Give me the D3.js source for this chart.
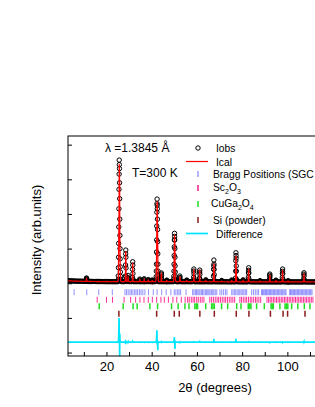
<!DOCTYPE html>
<html><head><meta charset="utf-8">
<script src="https://cdn.jsdelivr.net/npm/d3@7"></script>
<style>
html,body{margin:0;padding:0;background:#fff;}
svg{display:block;font-family:"Liberation Sans",Arial,sans-serif;}
</style></head>
<body>
<svg id="chart" width="315" height="407"></svg>
<script>
// ---------- DATA ----------
const wavelengthLabel = "λ =1.3845 Å";
const temperatureLabel = "T=300 K";
const xTicks = [10,20,30,40,50,60,70,80,90,100,110];
const xTickLabels = [20,40,60,80,100];
const yTicks = [-4000,-2000,0,2000,4000,6000,8000];
const diffOffset = -3400;

// background observed intensity, 2θ = 3.0 .. 115.0, step 0.5
const bgStart = 3.0, bgStep = 0.5;
const bgObs = [
150,142,138,135,130,128,125,122,120,118,116,118,114,112,110,113,109,108,106,105,
104,102,105,101,100,99,102,98,97,100,96,95,98,94,96,93,95,92,94,91,
93,92,90,94,91,95,92,96,94,97,95,99,96,98,95,97,94,96,93,95,
92,94,96,93,95,92,94,91,93,95,92,94,96,93,91,94,92,95,93,90,
92,94,91,93,90,92,94,91,89,92,90,93,91,89,92,90,88,91,89,92,
90,88,91,89,87,90,88,91,89,87,90,88,86,89,87,90,88,86,89,87,
85,88,86,89,87,85,88,86,84,87,85,88,86,84,87,85,83,86,84,87,
85,83,86,84,82,85,83,86,84,82,85,83,81,84,82,85,83,81,84,82,
80,83,81,84,82,80,83,81,79,82,80,83,81,79,82,80,78,81,79,82,
80,78,81,79,77,80,78,81,79,77,80,78,76,79,77,80,78,76,79,77,
75,78,76,79,77,75,78,76,74,77,75,78,76,74,77,75,73,76,74,77,
75,73,76,74,72];

// Bragg peaks: observed and calculated intensities, step 0.05° from start
const peakStep = 0.05;
const peaks = [
 {start:11.05, obs:[130,200,280,300,240,160,115], calc:[125,195,275,296,245,165,115]},
 {start:25.15, obs:[120,200,420,900,1500,2300,3250,4300,5420,6300,7110,6850,6620,5800,4880,3700,2760,2000,1410,950,650,400,240,140],
               calc:[118,190,400,850,1350,2000,2700,3500,4020,5000,6900,6700,6400,6000,5800,3200,2500,1850,1300,880,600,370,230,135]},
 {start:28.35, obs:[140,420,1050,1700,1915,1500,880,380,160], calc:[135,400,980,1820,1850,1560,850,360,150]},
 {start:29.45, obs:[130,300,450,320,150], calc:[130,290,430,330,150]},
 {start:31.45, obs:[120,330,800,1240,1050,560,220,110], calc:[120,310,760,1180,1100,540,210,110]},
 {start:34.65, obs:[110,190,240,170,105], calc:[110,185,235,175,105]},
 {start:36.60, obs:[110,200,260,180,100], calc:[110,195,255,185,100]},
 {start:38.45, obs:[105,170,210,150,100], calc:[105,165,205,155,100]},
 {start:40.15, obs:[100,160,190,140,95], calc:[100,155,185,145,95]},
 {start:41.90, obs:[130,240,380,700,1100,1800,2500,3300,4100,4600,4860,4500,4300,3700,3100,2400,1700,1100,700,420,260,130],
               calc:[128,230,360,660,1000,1650,2250,2900,3410,4300,4750,4600,4450,3800,3050,2600,2160,1200,720,410,250,130]},
 {start:44.15, obs:[130,300,520,590,430,220,120], calc:[130,290,500,600,440,215,120]},
 {start:46.55, obs:[100,150,180,130,95], calc:[100,148,176,134,95]},
 {start:49.70, obs:[120,250,400,700,1100,1600,2100,2500,2880,2700,2500,2000,1500,1000,650,380,220,120],
               calc:[120,240,380,660,1000,1450,1810,2300,2800,2700,2550,2250,1900,1050,620,360,210,120]},
 {start:52.35, obs:[120,260,415,330,160], calc:[120,250,400,340,160]},
 {start:55.40, obs:[105,150,185,140,100], calc:[105,148,180,142,100]},
 {start:58.50, obs:[120,350,700,820,560,240,110], calc:[120,330,680,800,580,240,110]},
 {start:61.10, obs:[110,300,640,760,520,220,100], calc:[110,290,620,780,520,220,100]},
 {start:63.85, obs:[100,150,200,140,95], calc:[100,148,195,143,95]},
 {start:67.30, obs:[120,400,800,1000,1340,1100,800,500,160,100], calc:[120,380,760,950,1140,1120,790,490,160,100]},
 {start:70.85, obs:[95,130,160,120,90], calc:[95,128,155,122,90]},
 {start:75.30, obs:[95,150,190,140,90], calc:[95,148,185,143,90]},
 {start:77.05, obs:[110,300,700,1300,1760,1600,1450,1000,700,220,110], calc:[110,290,680,1200,1560,1580,1500,980,690,215,110]},
 {start:80.35, obs:[90,150,200,140,88], calc:[90,147,195,144,88]},
 {start:82.70, obs:[110,350,600,750,895,600,250,110], calc:[110,340,590,720,830,620,250,110]},
 {start:87.85, obs:[88,120,150,115,85], calc:[88,118,146,117,85]},
 {start:92.10, obs:[110,250,460,530,380,170,100], calc:[110,245,450,500,390,170,100]},
 {start:94.85, obs:[85,140,180,130,82], calc:[85,138,175,133,82]},
 {start:97.70, obs:[110,330,550,690,820,560,230,100], calc:[110,320,540,660,770,570,230,100]},
 {start:100.25, obs:[85,120,150,115,80], calc:[85,118,146,117,80]},
 {start:107.20, obs:[110,270,520,605,430,190,100], calc:[110,265,500,570,440,190,100]}
];

// Bragg reflection positions (2θ)
const braggSGC = [5.7,11.3,16.6,22.6,28.2,28.9,29.6,30.4,31.0,31.7,32.5,33.1,33.8,34.6,35.3,36.1,37.0,38.6,40.7,42.4,44.4,46.4,48.5,
 50.0,50.7,51.5,52.1,52.8,55.2,58.1,58.7,59.3,59.8,60.4,60.9,61.4,62.1,62.5,63.1,63.7,64.2,64.8,65.3,65.8,66.4,67.0,67.5,68.1,68.8,
 70.2,71.0,71.8,72.6,73.3,75.4,76.0,76.7,77.2,77.8,78.5,79.0,79.6,80.3,80.8,81.4,82.0,84.2,85.0,85.8,86.6,87.3,
 88.6,89.0,89.5,90.0,90.4,90.8,91.3,91.8,92.2,92.6,93.1,93.6,94.0,94.4,94.9,95.4,95.8,96.2,96.7,97.2,97.6,98.0,98.5,99.0,99.4,
 101.0,101.4,101.9,102.4,102.8,103.2,103.7,104.2,104.6,105.0,105.5,106.0,106.4,106.8,107.3,107.8,108.2,108.6,109.1,109.6,110.0,110.4,110.9];
const braggSc2O3 = [15.9,20.0,22.7,27.8,30.7,32.9,34.8,36.6,38.5,40.3,42.2,44.1,45.6,47.4,49.4,51.1,53.1,54.8,55.9,56.6,57.5,58.3,59.0,59.9,
 60.6,61.5,62.3,63.1,65.7,66.5,67.3,68.1,68.9,69.6,70.4,71.2,72.0,72.7,73.5,74.3,75.1,75.9,76.7,79.0,79.7,80.5,81.3,82.0,82.8,83.6,
 84.3,85.1,85.9,86.6,87.4,88.2,91.0,91.7,92.4,93.1,93.8,94.5,95.2,95.9,96.6,97.3,98.0,98.7,99.4,100.1,100.8,101.5,102.2,102.9,
 103.6,104.3,105.0,105.7,106.4,107.1,107.8,108.5,109.2,109.9,110.6,111.3];
const braggCuGa2O4 = [16.8,27.4,31.8,33.6,39.2,42.6,48.8,51.7,54.7,56.5,59.1,59.7,60.3,63.9,66.5,67.1,67.7,70.9,73.6,77.6,79.5,
 82.7,83.3,83.9,86.4,89.8,92.8,93.3,93.8,96.7,99.0,99.6,100.2,101.9,104.6,107.5,110.0];
const braggSi = [25.5,42.2,50.0,52.2,61.3,67.7,77.4,83.0,92.5,98.1,100.1,107.8];

// ---------- LAYOUT ----------
const mLeft = 68, mRight = 362, mTop = 136, mBottom = 356;
const svg = d3.select("#chart");
const x = d3.scaleLinear().domain([3, 133]).range([mLeft, mRight]);
const y = d3.scaleLinear().domain([-4200, 8500]).range([mBottom, mTop]);

svg.append("defs").append("clipPath").attr("id","clip")
  .append("rect").attr("x",mLeft).attr("y",mTop).attr("width",mRight-mLeft).attr("height",mBottom-mTop);

// assemble points
const inPeak = t => peaks.some(p => t >= p.start - 0.02 && t <= p.start + (p.obs.length-1)*peakStep + 0.02);
let pts = [];
bgObs.forEach((v,i) => { const t = bgStart + i*bgStep; if (!inPeak(t)) pts.push({t, obs:v, calc:v}); });
peaks.forEach(p => p.obs.forEach((v,i) => pts.push({t: +(p.start + i*peakStep).toFixed(3), obs:v, calc:p.calc[i]})));
pts.sort((a,b) => a.t - b.t);

const g = svg.append("g").attr("clip-path","url(#clip)");

// observed circles
g.append("g").selectAll("circle").data(pts).join("circle")
  .attr("cx", d => x(d.t)).attr("cy", d => y(d.obs)).attr("r", 2.2)
  .attr("fill","none").attr("stroke","#000").attr("stroke-width",1);

// calculated line
g.append("path").datum(pts)
  .attr("d", d3.line().x(d => x(d.t)).y(d => y(d.calc)))
  .attr("fill","none").attr("stroke","#ff0000").attr("stroke-width",1.2);

// bragg ticks
const rows = [
  {data: braggSGC, color:"#6b6bff", y0:6, y1:12, w:1, op:0.75},
  {data: braggSc2O3, color:"#ff1a8c", y0:13.5, y1:19.5, w:1, op:0.9},
  {data: braggCuGa2O4, color:"#22dd22", y0:20, y1:26, w:1.5, op:1},
  {data: braggSi, color:"#8b1a1a", y0:27.5, y1:33.5, w:1.5, op:1}
];
rows.forEach(r => {
  g.append("g").selectAll("line").data(r.data).join("line")
    .attr("x1", d => x(d)).attr("x2", d => x(d))
    .attr("y1", y(0) + r.y0).attr("y2", y(0) + r.y1)
    .attr("stroke", r.color).attr("stroke-width", r.w).attr("stroke-opacity", r.op);
});

// difference curve
g.append("path").datum(pts)
  .attr("d", d3.line().x(d => x(d.t)).y(d => y(d.obs - d.calc + diffOffset)))
  .attr("fill","none").attr("stroke","#00e5ff").attr("stroke-width",1.7);

// axes
const xAxis = d3.axisBottom(x).tickValues(xTicks).tickSize(-4).tickPadding(6)
  .tickFormat(d => xTickLabels.includes(d) ? d : "");
const ax = svg.append("g").attr("transform",`translate(0,${mBottom})`).call(xAxis);
ax.select(".domain").remove();
ax.selectAll("text").attr("font-size",13).attr("font-family","Liberation Sans, Arial, sans-serif").attr("fill","#000");
ax.selectAll("line").attr("stroke","#000");

const yAxis = d3.axisLeft(y).tickValues(yTicks).tickSize(-4).tickFormat("");
const ay = svg.append("g").attr("transform",`translate(${mLeft},0)`).call(yAxis);
ay.select(".domain").remove();
ay.selectAll("line").attr("stroke","#000");

// frame
svg.append("rect").attr("x",mLeft).attr("y",mTop).attr("width",mRight-mLeft).attr("height",mBottom-mTop)
  .attr("fill","none").attr("stroke","#000").attr("stroke-width",1);

// axis titles
svg.append("text").attr("x", (mLeft+mRight)/2).attr("y", 392).attr("text-anchor","middle")
  .attr("font-size",13).text("2θ (degrees)");
svg.append("text").attr("transform",`translate(41,${240}) rotate(-90)`).attr("text-anchor","middle")
  .attr("font-size",13).text("Intensity (arb.units)");

// annotations
svg.append("text").attr("x",105).attr("y",152).attr("font-size",12).text(wavelengthLabel);
svg.append("text").attr("x",132).attr("y",177).attr("font-size",12).text(temperatureLabel);

// legend
const L = svg.append("g").attr("font-size",10.3);
L.append("circle").attr("cx",198).attr("cy",148).attr("r",2.2).attr("fill","none").attr("stroke","#000").attr("stroke-width",1);
L.append("text").attr("x",216).attr("y",152).text("Iobs");
L.append("line").attr("x1",186).attr("x2",208).attr("y1",161.5).attr("y2",161.5).attr("stroke","#ff0000").attr("stroke-width",1.2);
L.append("text").attr("x",216).attr("y",166).text("Ical");
L.append("line").attr("x1",198).attr("x2",198).attr("y1",171).attr("y2",177).attr("stroke","#6b6bff").attr("stroke-width",1);
L.append("text").attr("x",213).attr("y",178).text("Bragg Positions (SGC");
L.append("line").attr("x1",198).attr("x2",198).attr("y1",185).attr("y2",191).attr("stroke","#ff1a8c").attr("stroke-width",1.5);
const t1 = L.append("text").attr("x",213).attr("y",191);
t1.append("tspan").text("Sc");
t1.append("tspan").attr("font-size",7).attr("dy",3).text("2");
t1.append("tspan").attr("dy",-3).text("O");
t1.append("tspan").attr("font-size",7).attr("dy",3).text("3");
L.append("line").attr("x1",198).attr("x2",198).attr("y1",201).attr("y2",207).attr("stroke","#22dd22").attr("stroke-width",1.5);
const t2 = L.append("text").attr("x",211).attr("y",207);
t2.append("tspan").text("CuGa");
t2.append("tspan").attr("font-size",7).attr("dy",3).text("2");
t2.append("tspan").attr("dy",-3).text("O");
t2.append("tspan").attr("font-size",7).attr("dy",3).text("4");
L.append("line").attr("x1",198).attr("x2",198).attr("y1",217).attr("y2",223).attr("stroke","#8b1a1a").attr("stroke-width",1.5);
L.append("text").attr("x",213).attr("y",224).text("Si (powder)");
L.append("line").attr("x1",186).attr("x2",208).attr("y1",233.5).attr("y2",233.5).attr("stroke","#00e5ff").attr("stroke-width",1.7);
L.append("text").attr("x",216).attr("y",238).text("Difference");
</script>
</body></html>
